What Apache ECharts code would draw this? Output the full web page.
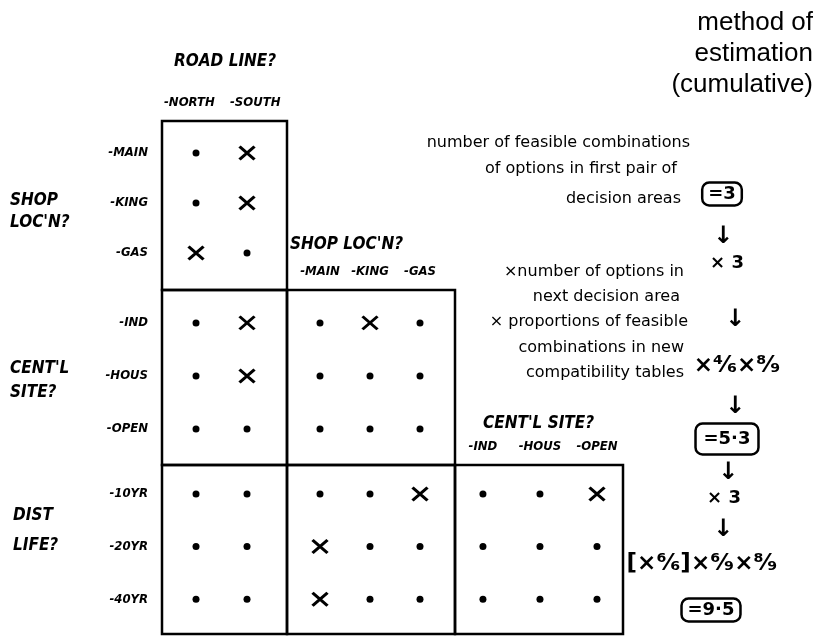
<!DOCTYPE html>
<html>
<head>
<meta charset="utf-8">
<script src="https://cdn.jsdelivr.net/npm/echarts@6/dist/echarts.min.js"></script>
<style>
  html, body { margin: 0; padding: 0; background: #fff; }
  #chart { width: 817px; height: 636px; }
</style>
</head>
<body>
<div id="chart"></div>
<script>
// options in each decision area
var roadLine = ['-NORTH', '-SOUTH'];
var shopLoc = ['-MAIN', '-KING', '-GAS'];
var centSite = ['-IND', '-HOUS', '-OPEN'];
var distLife = ['-10YR', '-20YR', '-40YR'];

// compatibility tables, rows x columns: 1 = feasible (dot), 0 = incompatible (cross)
var shopByRoad = [[1, 0], [1, 0], [0, 1]];
var centByRoad = [[1, 0], [1, 0], [1, 1]];
var distByRoad = [[1, 1], [1, 1], [1, 1]];
var centByShop = [[1, 0, 1], [1, 1, 1], [1, 1, 1]];
var distByShop = [[1, 1, 0], [0, 1, 1], [0, 1, 1]];
var distByCent = [[1, 1, 0], [1, 1, 1], [1, 1, 1]];

var hand = 'DejaVu Sans Condensed';
var ink = '#000';

// axis ranges so that the hand drawn spacing is kept
var colRange = {
  road: { min: -0.667, max: 1.784, names: roadLine, labelAt: [-0.13, 1.16] },
  shop: { min: -0.66, max: 2.70, names: shopLoc },
  cent: { min: -0.49, max: 2.456, names: centSite }
};
var rowRange = {
  shop: { min: -0.64, max: 2.74, names: shopLoc },
  cent: { min: -0.62, max: 2.68, names: centSite },
  dist: { min: -0.55, max: 2.66, names: distLife }
};

var boxes = [
  { box: [162, 121, 125, 169], col: 'road', row: 'shop', m: shopByRoad, top: true, left: true },
  { box: [162, 290, 125, 175], col: 'road', row: 'cent', m: centByRoad, top: false, left: true },
  { box: [162, 465, 125, 169], col: 'road', row: 'dist', m: distByRoad, top: false, left: true },
  { box: [287, 290, 168, 175], col: 'shop', row: 'cent', m: centByShop, top: true, left: false },
  { box: [287, 465, 168, 169], col: 'shop', row: 'dist', m: distByShop, top: false, left: false },
  { box: [455, 465, 168, 169], col: 'cent', row: 'dist', m: distByCent, top: true, left: false }
];

function cells(m, flag) {
  var out = [];
  m.forEach(function (row, r) {
    row.forEach(function (v, c) {
      if (v === flag) out.push([c, r]);
    });
  });
  return out;
}

function idx(n) {
  var a = [];
  for (var i = 0; i < n; i++) a.push(i);
  return a;
}

var labelStyle = {
  color: ink,
  fontFamily: hand,
  fontWeight: 'bold',
  fontStyle: 'italic',
  fontSize: 13
};

var grids = [], xAxes = [], yAxes = [], series = [];
boxes.forEach(function (b, i) {
  var cr = colRange[b.col], rr = rowRange[b.row];
  grids.push({
    left: b.box[0], top: b.box[1], width: b.box[2], height: b.box[3],
    show: true, borderColor: ink, borderWidth: 2.5, backgroundColor: 'transparent'
  });
  xAxes.push({
    gridIndex: i, type: 'value', position: 'top', show: b.top,
    min: cr.min, max: cr.max,
    axisLine: { show: false }, axisTick: { show: false }, splitLine: { show: false },
    axisLabel: Object.assign({
      customValues: cr.labelAt || idx(cr.names.length),
      margin: 12,
      formatter: function (v) { return cr.names[Math.round(v)]; }
    }, labelStyle)
  });
  yAxes.push({
    gridIndex: i, type: 'value', inverse: true, show: b.left,
    min: rr.min, max: rr.max,
    axisLine: { show: false }, axisTick: { show: false }, splitLine: { show: false },
    axisLabel: Object.assign({
      customValues: idx(rr.names.length),
      margin: 14,
      formatter: function (v) { return rr.names[Math.round(v)]; }
    }, labelStyle)
  });
  series.push({
    type: 'scatter', xAxisIndex: i, yAxisIndex: i,
    data: cells(b.m, 1),
    symbol: 'circle', symbolSize: 7,
    itemStyle: { color: ink, opacity: 1 },
    silent: true
  });
  series.push({
    type: 'scatter', xAxisIndex: i, yAxisIndex: i,
    data: cells(b.m, 0),
    symbol: 'path://M0,0L10,9M10,0L0,9', symbolSize: [15, 13],
    itemStyle: { color: ink, borderColor: ink, borderWidth: 3, opacity: 1 },
    silent: true
  });
});

function note(x, y, text, extra) {
  return {
    type: 'text', x: x, y: y,
    style: Object.assign({
      text: text, fill: ink, fontFamily: 'DejaVu Sans', fontSize: 16,
      align: 'right', verticalAlign: 'middle'
    }, extra || {})
  };
}

var heading = { fontFamily: hand, fontWeight: 'bold', fontStyle: 'italic', fontSize: 17, align: 'left' };
var sum = { fontFamily: 'DejaVu Sans', fontWeight: 'bold', fontSize: 18, align: 'center' };
var arrow = Object.assign({}, sum, { fontSize: 24 });
var boxed = Object.assign({}, sum, {
  borderColor: ink, borderWidth: 2.5, borderRadius: 7, padding: [3, 6, 2, 6]
});

var graphics = [
  // decision area names
  note(174, 62, 'ROAD LINE?', heading),
  note(290, 245, "SHOP LOC'N?", heading),
  note(483, 424, "CENT'L SITE?", heading),
  note(10, 212, "SHOP\nLOC'N?", Object.assign({}, heading, { lineHeight: 22 })),
  note(10, 381, "CENT'L\nSITE?", Object.assign({}, heading, { lineHeight: 24 })),
  note(13, 531, 'DIST\nLIFE?', Object.assign({}, heading, { lineHeight: 30 })),
  // title of the right column
  note(813, 54, 'method of\nestimation\n(cumulative)', {
    fontFamily: 'Liberation Sans', fontSize: 26, lineHeight: 31, align: 'right'
  }),
  // explanations
  note(690, 143, 'number of feasible combinations'),
  note(677, 169, 'of options in first pair of'),
  note(681, 199, 'decision areas'),
  note(684, 272, '×number of options in'),
  note(680, 297, 'next decision area'),
  note(688, 322, '× proportions of feasible'),
  note(684, 348, 'combinations in new'),
  note(684, 373, 'compatibility tables'),
  // cumulative estimate
  note(722, 194, '=3', boxed),
  note(723, 237, '↓', arrow),
  note(727, 263, '× 3', sum),
  note(735, 320, '↓', arrow),
  note(737, 366, '×⁴⁄₆×⁸⁄₉', Object.assign({}, sum, { fontSize: 23 })),
  note(735, 407, '↓', arrow),
  note(727, 439, '=5·3', Object.assign({}, boxed, { padding: [7, 8, 6, 8] })),
  note(728, 473, '↓', arrow),
  note(724, 498, '× 3', sum),
  note(723, 530, '↓', arrow),
  note(702, 564, '[×⁶⁄₆]×⁶⁄₉×⁸⁄₉', Object.assign({}, sum, { fontSize: 23 })),
  note(711, 610, '=9·5', boxed)
];

var chart = echarts.init(document.getElementById('chart'));
chart.setOption({
  animation: false,
  backgroundColor: '#fff',
  grid: grids,
  xAxis: xAxes,
  yAxis: yAxes,
  series: series,
  graphic: graphics
});
</script>
</body>
</html>
